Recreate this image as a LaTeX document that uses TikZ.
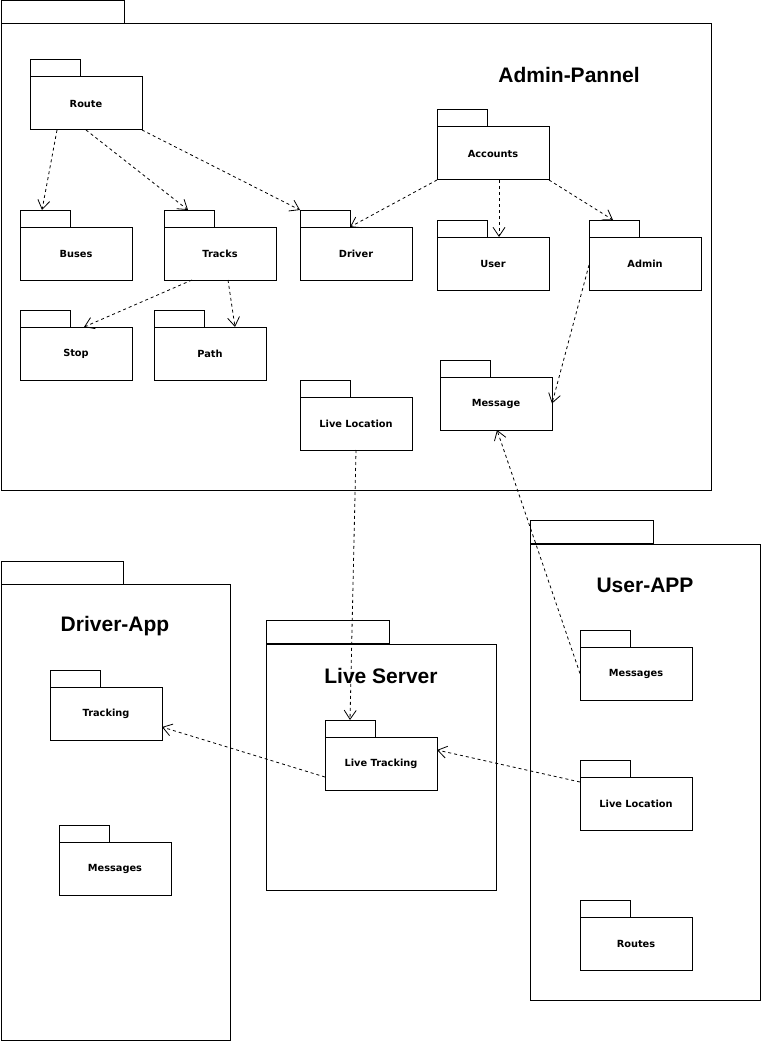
\documentclass[tikz,border=0pt]{standalone}
\usepackage{fontspec}
\usetikzlibrary{arrows.meta}
\newfontfamily\titlef{Liberation Sans}
\newfontfamily\labf{DejaVu Sans}
\tikzset{
  pkbody/.style={draw,line width=1pt,minimum width=112pt,minimum height=53pt,inner sep=0pt,outer sep=0pt,font=\labf\bfseries\fontsize{9.8}{11}\selectfont},
  pktab/.style={draw,line width=1pt,minimum width=50pt,minimum height=17pt,inner sep=0pt,outer sep=0pt},
  bigtab/.style={draw,line width=1pt,minimum height=23pt,inner sep=0pt,outer sep=0pt},
  bigline/.style={line width=1pt},
  ttl/.style={font=\titlef\bfseries\fontsize{21}{25}\selectfont,inner sep=0pt},
  dep/.style={line width=0.8pt,dash pattern=on 3pt off 3pt,-{Straight Barb[length=9pt,width=12pt,line width=0.8pt]}}
}
\newcommand\pkg[4]{%
  \node[pkbody,anchor=north west] (#1) at (#2,#3+17) {#4};
  \node[pktab,anchor=south west] (#1t) at (#1.north west) {};
}
\begin{document}
\begin{tikzpicture}[x=1pt,y=-1pt]
\useasboundingbox (0,0) rectangle (761,1051);
% big packages
\node[bigtab,minimum width=123pt,anchor=north west] (APt) at (1,1) {};
\draw[bigline] (1,24) rectangle (711,490);
\node[ttl] (APtitle) at (569,75) {Admin-Pannel};

\node[bigtab,minimum width=122pt,anchor=north west] (DAt) at (1,561) {};
\draw[bigline] (1,584) rectangle (230,1040);
\node[ttl] (DAtitle) at (115,626) {Driver-App};

\node[bigtab,minimum width=123pt,anchor=north west] (LSt) at (266,620) {};
\draw[bigline] (266,644) rectangle (496,890);
\node[ttl] (LStitle) at (381,676) {Live Server};

\node[bigtab,minimum width=123pt,anchor=north west] (UAt) at (530,520) {};
\draw[bigline] (530,544) rectangle (760,1000);
\node[ttl] (UAtitle) at (645,585) {User-APP};

% small packages
\pkg{Route}{30}{60}{Route}
\pkg{Buses}{20}{210}{Buses}
\pkg{Tracks}{164}{210}{Tracks}
\pkg{Driver}{300}{210}{Driver}
\pkg{Accounts}{437}{110}{Accounts}
\pkg{User}{437}{220}{User}
\pkg{Admin}{589}{220}{Admin}
\pkg{Stop}{20}{310}{Stop}
\pkg{Path}{154}{310}{Path}
\pkg{LiveLoc}{300}{380}{Live Location}
\pkg{Message}{440}{360}{Message}
\pkg{Tracking}{50}{670}{Tracking}
\pkg{DMsg}{59}{825}{Messages}
\pkg{LT}{325}{720}{Live Tracking}
\pkg{UMsg}{580}{630}{Messages}
\pkg{ULL}{580}{760}{Live Location}
\pkg{Routes}{580}{900}{Routes}

% dependencies
\draw[dep] ([xshift=27pt]Route.south west) -- ([xshift=22pt]Busest.north west);
\draw[dep] (Route.south) -- ([xshift=24pt]Trackst.north west);
\draw[dep] (Route.south east) -- (Drivert.north west);
\draw[dep] (Accounts.south west) -- (Drivert.south east);
\draw[dep] ([xshift=6pt]Accounts.south) -- ([xshift=6pt]User.north);
\draw[dep] (Accounts.south east) -- ([xshift=24pt]Admint.north west);
\draw[dep] ([xshift=28pt]Tracks.south west) -- ([xshift=64pt]Stop.north west);
\draw[dep] ([xshift=64pt]Tracks.south west) -- ([xshift=81pt]Path.north west);
\draw[dep] ([yshift=-1.5pt]Admin.west) -- (Message.east);
\draw[dep] (UMsg.west) -- ([xshift=57pt]Message.south west);
\draw[dep] (LiveLoc.south) -- (LTt.north);
\draw[dep] ([yshift=-13.5pt]LT.west) -- ([yshift=-13.5pt]Tracking.east);
\draw[dep] ([yshift=21.5pt]ULL.west) -- ([yshift=13.5pt]LT.east);
\end{tikzpicture}
\end{document}
